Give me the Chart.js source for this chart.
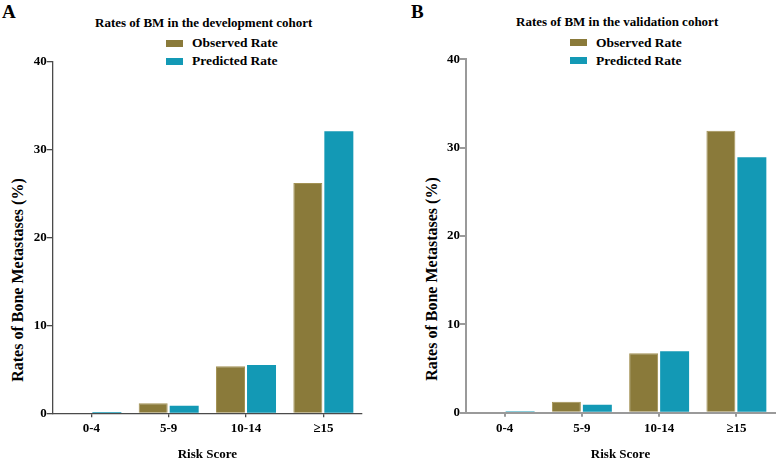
<!DOCTYPE html>
<html><head><meta charset="utf-8">
<script src="https://cdn.jsdelivr.net/npm/chart.js@4/dist/chart.umd.min.js"></script>
<style>
body{margin:0;background:#fff;width:778px;height:461px;overflow:hidden;font-family:"Liberation Serif","Times New Roman",serif;font-weight:bold;color:#000;}
.panel{position:absolute;top:0;width:389px;height:461px;}
canvas{position:absolute;left:0;top:0;}
.txt{position:absolute;white-space:nowrap;line-height:1;}
.sw{position:absolute;width:17px;height:7px;}
.ytitle{position:absolute;white-space:nowrap;line-height:1;font-size:16px;transform:translate(-50%,-50%) rotate(-90deg);}
</style>
</head><body>
<div class="txt" style="left:2px;top:2px;font-size:19px;">A</div>
<div class="txt" style="left:411px;top:2px;font-size:19px;">B</div>
<div class="txt" style="left:95px;top:16px;font-size:13px;">Rates of BM in the development cohort</div>
<div class="txt" style="left:516px;top:15px;font-size:13px;">Rates of BM in the validation cohort</div>

<div class="sw" style="left:166px;top:40px;background:#8a7a3a;"></div>
<div class="txt" style="left:192px;top:36px;font-size:13.5px;">Observed Rate</div>
<div class="sw" style="left:166px;top:58px;background:#1399b5;"></div>
<div class="txt" style="left:192px;top:54px;font-size:13.5px;">Predicted Rate</div>

<div class="sw" style="left:570px;top:39px;background:#8a7a3a;"></div>
<div class="txt" style="left:596px;top:36px;font-size:13.5px;">Observed Rate</div>
<div class="sw" style="left:570px;top:57px;background:#1399b5;"></div>
<div class="txt" style="left:596px;top:54px;font-size:13.5px;">Predicted Rate</div>

<div class="ytitle" style="left:17.5px;top:280px;">Rates of Bone Metastases (%)</div>
<div class="ytitle" style="left:432px;top:279px;">Rates of Bone Metastases (%)</div>

<div class="panel" style="left:0;"><canvas id="cA" width="389" height="461"></canvas></div>
<div class="panel" style="left:389px;"><canvas id="cB" width="389" height="461"></canvas></div>

<script>
const categories = ['0-4', '5-9', '10-14', '≥15'];
const yTicks = [0, 10, 20, 30, 40];
const devObserved = [0.05, 1.15, 5.35, 26.2];
const devPredicted = [0.15, 0.85, 5.5, 32.1];
const valObserved = [0.1, 1.25, 6.72, 31.9];
const valPredicted = [0.15, 0.9, 6.95, 28.9];
const seriesNames = ['Observed Rate', 'Predicted Rate'];
const xTitle = 'Risk Score';

Chart.defaults.font.family = '"Liberation Serif","Times New Roman",serif';
Chart.defaults.font.weight = 'bold';
Chart.defaults.font.size = 13;
Chart.defaults.color = '#000';
Chart.defaults.animation = false;

function makeChart(id, obs, pred, g) {
  new Chart(document.getElementById(id), {
    type: 'bar',
    data: {
      labels: categories,
      datasets: [
        {label: seriesNames[0], data: obs, backgroundColor: '#8a7a3a', borderColor: '#a39254', borderWidth: 1, borderSkipped: 'bottom'},
        {label: seriesNames[1], data: pred, backgroundColor: '#1399b5', borderWidth: 0}
      ]
    },
    options: {
      responsive: false,
      maintainAspectRatio: false,
      animation: false,
      datasets: {bar: {categoryPercentage: 0.802, barPercentage: 0.935}},
      layout: {padding: {left: 0, top: g.top, right: g.right, bottom: 0}},
      plugins: {legend: {display: false}, title: {display: false}, tooltip: {enabled: false}},
      scales: {
        x: {
          type: 'category',
          afterFit: s => { s.height = g.xh; },
          grid: {display: true, drawOnChartArea: false, drawTicks: true, tickLength: 4, offset: false, color: g.axis, lineWidth: g.lw},
          border: {display: true, color: g.axis, width: g.lw},
          ticks: {padding: 4, maxRotation: 0, autoSkip: false, font: {size: 13, weight: 'bold'}},
          title: {display: true, text: xTitle, padding: {top: 0, bottom: 0}, font: {size: 13, weight: 'bold', lineHeight: 1}}
        },
        y: {
          min: 0, max: 40,
          afterFit: s => { s.width = g.yw; },
          afterBuildTicks: s => { s.ticks = yTicks.map(v => ({value: v})); },
          grid: {display: true, drawOnChartArea: false, drawTicks: true, tickLength: 6, color: g.axis, lineWidth: g.lw},
          border: {display: true, color: g.axis, width: g.lw},
          ticks: {padding: 0, font: {size: 13, weight: 'bold'}}
        }
      }
    }
  });
}

makeChart('cA', devObserved, devPredicted, {top: 61.7, right: 27, xh: 47.7, yw: 52.7, axis: '#4a4a4a', lw: 1.3});
makeChart('cB', valObserved, valPredicted, {top: 59.3, right: 3, xh: 48.3, yw: 77, axis: '#9a9a9a', lw: 2});
</script>
</body></html>
